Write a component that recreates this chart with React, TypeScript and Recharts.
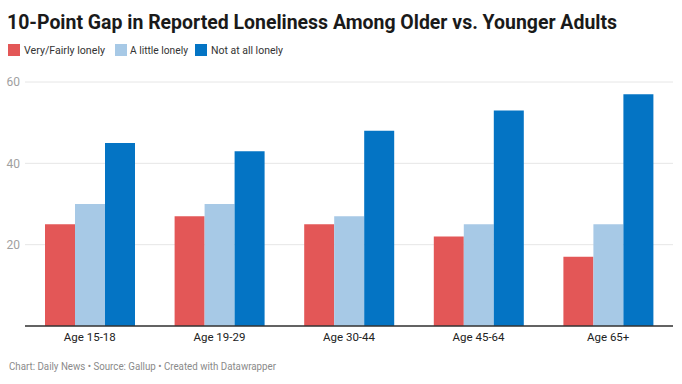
import React from 'react';
import { BarChart, Bar, XAxis, YAxis, CartesianGrid } from 'recharts';

const CATEGORIES = ['Age 15-18', 'Age 19-29', 'Age 30-44', 'Age 45-64', 'Age 65+'];
const VERY_FAIRLY = [25, 27, 25, 22, 17];
const A_LITTLE = [30, 30, 27, 25, 25];
const NOT_AT_ALL = [45, 43, 48, 53, 57];
const Y_TICKS = [20, 40, 60];

const SERIES = [
  { key: 'very', name: 'Very/Fairly lonely', color: '#e35757' },
  { key: 'little', name: 'A little lonely', color: '#a7c9e6' },
  { key: 'not', name: 'Not at all lonely', color: '#0474c4' },
];

const data = CATEGORIES.map((c, i) => ({
  name: c,
  very: VERY_FAIRLY[i],
  little: A_LITTLE[i],
  not: NOT_AT_ALL[i],
}));

// legend placement (square x, text x, text width)
const LEGEND_POS = [
  { sx: 8, tx: 24, w: 81 },
  { sx: 115, tx: 130, w: 58 },
  { sx: 195, tx: 211, w: 72 },
];

const FONT = 'Roboto, "Noto Sans", Arial, sans-serif';

export default function App() {
  return (
    <div style={{ position: 'absolute', left: 0, top: 0, width: 682, height: 384, background: '#fff', fontFamily: FONT }}>
      <BarChart
        width={682}
        height={384}
        data={data}
        margin={{ top: 82, right: 9, bottom: 28, left: 0 }}
        barGap={0}
      >
        <CartesianGrid vertical={false} stroke="#e6e6e6" />
        <YAxis
          width={25}
          domain={[0, 60]}
          ticks={Y_TICKS}
          axisLine={false}
          tickLine={false}
          tickSize={0}
          tickMargin={5}
          tick={{ fill: '#a0a0a0', fontSize: 12, fontFamily: FONT }}
        />
        <XAxis
          dataKey="name"
          height={30}
          axisLine={{ stroke: '#333', strokeWidth: 1.5 }}
          tickLine={false}
          tickSize={0}
          tickMargin={7}
          tick={{ fill: '#222', fontSize: 11.5, fontFamily: FONT }}
        />
        {SERIES.map(s => (
          <Bar key={s.key} dataKey={s.key} name={s.name} fill={s.color} barSize={30} isAnimationActive={false} />
        ))}
      </BarChart>
      <svg
        width={682}
        height={384}
        style={{ position: 'absolute', left: 0, top: 0, pointerEvents: 'none' }}
        fontFamily={FONT}
      >
        <text x={7} y={29} fontSize={20} fontWeight={700} fill="#1a1a1a" textLength={610} lengthAdjust="spacingAndGlyphs">
          10-Point Gap in Reported Loneliness Among Older vs. Younger Adults
        </text>
        {SERIES.map((s, i) => (
          <g key={s.key}>
            <rect x={LEGEND_POS[i].sx} y={44} width={12} height={12} fill={s.color} />
            <text x={LEGEND_POS[i].tx} y={54} fontSize={11} fill="#333" textLength={LEGEND_POS[i].w} lengthAdjust="spacingAndGlyphs">
              {s.name}
            </text>
          </g>
        ))}
        <text x={9} y={370} fontSize={11} fill="#8a8a8a" textLength={267} lengthAdjust="spacingAndGlyphs">
          Chart: Daily News • Source: Gallup • Created with Datawrapper
        </text>
      </svg>
    </div>
  );
}
